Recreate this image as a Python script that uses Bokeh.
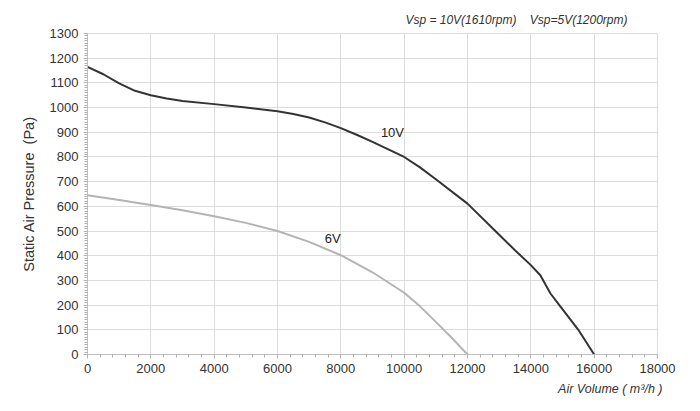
from bokeh.plotting import figure
from bokeh.models import Range1d, SingleIntervalTicker, Label, Title
from bokeh.embed import file_html
from bokeh.resources import INLINE

# ----------------------------
# Fan curve data
# ----------------------------
flow_10v = [0, 500, 1000, 1500, 2000, 2500, 3000, 4000, 5000, 6000, 6500, 7000,
            7500, 8000, 8500, 9000, 10000, 10500, 11000, 12000, 13000, 13500,
            14000, 14300, 14620, 14900, 15500, 16000]
pres_10v = [1165, 1135, 1098, 1068, 1050, 1037, 1027, 1014, 1000, 985, 974, 960,
            940, 917, 890, 861, 800, 758, 710, 611, 485, 422, 362, 321, 247,
            200, 100, 0]

flow_6v = [0, 1000, 2000, 3000, 4000, 5000, 6000, 7000, 8000, 9000, 10000,
           10500, 11000, 11500, 12000]
pres_6v = [645, 626, 605, 584, 560, 533, 500, 456, 402, 333, 250, 195, 132, 68, 0]

NBSP = "\u00a0"
title_text = "Vsp = 10V(1610rpm)" + NBSP * 4 + "Vsp=5V(1200rpm)"
x_label = "Air Volume ( m\u00b3/h )"
y_label = "Static Air Pressure" + NBSP * 2 + "(Pa)"

FONT = "Liberation Sans"
GRID = "#dcdcdc"
TEXT = "#333333"

p = figure(width=692, height=403, output_backend="svg", toolbar_location=None,
           x_range=Range1d(0, 18000), y_range=Range1d(0, 1300),
           min_border_left=87, min_border_right=35,
           min_border_top=33, min_border_bottom=49)

p.outline_line_color = GRID
p.background_fill_color = "white"

p.xaxis.ticker = SingleIntervalTicker(interval=2000, num_minor_ticks=5)
p.yaxis.ticker = SingleIntervalTicker(interval=100, num_minor_ticks=10)

for ax in (p.xaxis, p.yaxis):
    ax.axis_line_color = "#c0c0c0"
    ax.major_tick_line_color = "#c0c0c0"
    ax.minor_tick_line_color = "#b0b0b0"
    ax.major_tick_out = 4
    ax.major_tick_in = 0
    ax.minor_tick_out = 3
    ax.minor_tick_in = 0
    ax.major_label_text_font = FONT
    ax.major_label_text_font_size = "13px"
    ax.major_label_text_color = TEXT

p.yaxis.axis_label = y_label
p.yaxis.axis_label_text_font = FONT
p.yaxis.axis_label_text_font_style = "normal"
p.yaxis.axis_label_text_font_size = "14.5px"
p.yaxis.axis_label_text_color = TEXT
p.yaxis.axis_label_standoff = 10

p.xgrid.grid_line_color = GRID
p.ygrid.grid_line_color = GRID
p.xgrid.ticker = p.xaxis.ticker
p.ygrid.ticker = p.yaxis.ticker

p.line(flow_6v, pres_6v, line_color="#b4b4b4", line_width=2)
p.line(flow_10v, pres_10v, line_color="#333333", line_width=2)

p.add_layout(Label(x=9630, y=900, text="10V", text_align="center",
                   text_baseline="middle", text_font=FONT,
                   text_font_size="13px", text_color="#222222"))
p.add_layout(Label(x=7740, y=471, text="6V", text_align="center",
                   text_baseline="middle", text_font=FONT,
                   text_font_size="13px", text_color="#222222"))

p.add_layout(Title(text=title_text, align="right", offset=30, standoff=14,
                   text_font=FONT, text_font_style="italic",
                   text_font_size="12px", text_color=TEXT), "above")
p.add_layout(Title(text=x_label, align="right", offset=-5, standoff=8,
                   text_font=FONT, text_font_style="italic",
                   text_font_size="12.5px", text_color=TEXT), "below")

open("out.html", "w").write(file_html(p, INLINE))
